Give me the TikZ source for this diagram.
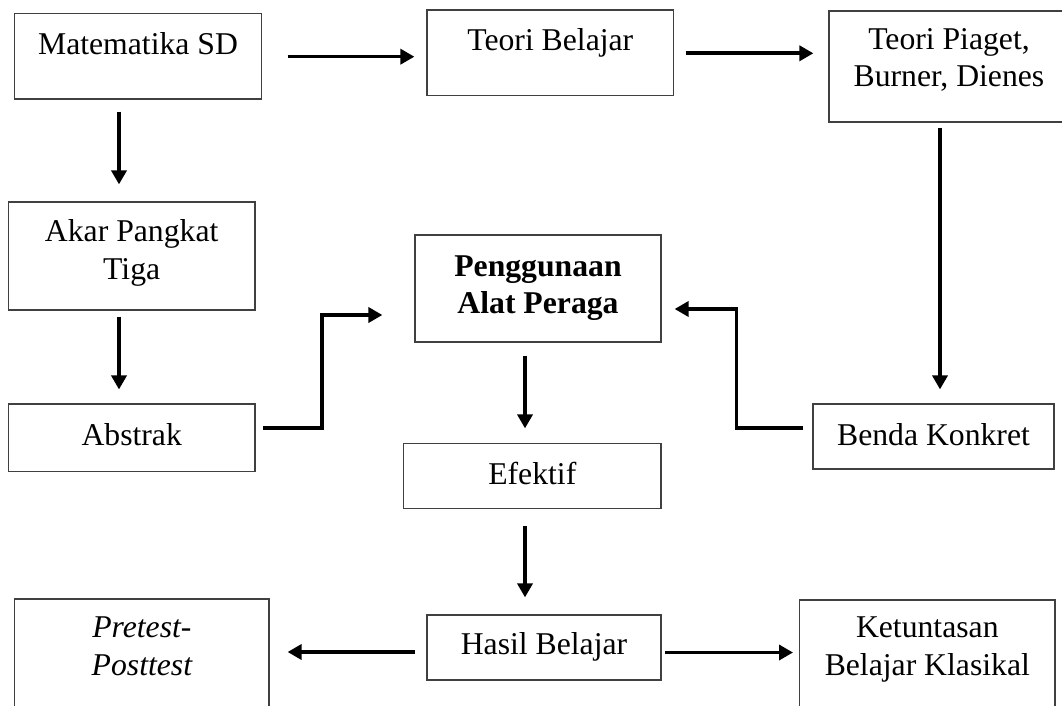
\documentclass[tikz,border=0pt]{standalone}
\usepackage{fontspec}
\setmainfont{Liberation Serif}
\usetikzlibrary{arrows.meta,calc}
\tikzset{
  box/.style={draw=black!75, line width=1.2pt, inner sep=0pt, rectangle},
  lbl/.style={anchor=base, inner sep=0pt, font=\fontsize{31.7}{38}\selectfont},
  arr/.style={line width=3.6pt, -{Triangle[width=15pt,length=14pt]}},
  conn/.style={line width=3.6pt}
}
\begin{document}
\begin{tikzpicture}[x=1pt,y=-1pt]
\useasboundingbox (0,0) rectangle (1062,706);
\clip (0,0) rectangle (1062,706);
% boxes
\node[box, minimum width=246.6pt, minimum height=85.7pt] (mat) at (138,56.2) {};
\node[box, minimum width=246.6pt, minimum height=85.7pt] (tb) at (550.3,52.9) {};
\node[box, minimum width=241pt, minimum height=111pt] (tp) at (949.5,66.5) {};
\node[box, minimum width=246.7pt, minimum height=108pt] (akar) at (131.7,256) {};
\node[box, minimum width=246pt, minimum height=107pt] (peng) at (538,288.5) {};
\node[box, minimum width=246.7pt, minimum height=67.7pt] (abs) at (131.7,437.9) {};
\node[box, minimum width=241pt, minimum height=65pt] (bk) at (933.5,436.5) {};
\node[box, minimum width=257.4pt, minimum height=65pt] (ef) at (532.3,476.2) {};
\node[box, minimum width=234pt, minimum height=65pt] (hasil) at (544,647.5) {};
\node[box, minimum width=254.2pt, minimum height=121pt] (pre) at (141.9,659.5) {};
\node[box, minimum width=255.4pt, minimum height=120pt] (ket) at (927.3,660) {};
% texts
\node[lbl] (matT) at (138,54.3) {Matematika SD};
\node[lbl] (tbT) at (550.3,51) {Teori Belajar};
\node[lbl] (tpT1) at (949,50) {Teori Piaget,};
\node[lbl] (tpT2) at (949,87) {Burner, Dienes};
\node[lbl] (akarT1) at (131.7,241.7) {Akar Pangkat};
\node[lbl] (akarT2) at (131.7,279.3) {Tiga};
\node[lbl,font=\fontsize{31.7}{38}\selectfont\bfseries] (pengT1) at (538,276) {Penggunaan};
\node[lbl,font=\fontsize{31.7}{38}\selectfont\bfseries] (pengT2) at (538,313) {Alat Peraga};
\node[lbl] (absT) at (131.7,445) {Abstrak};
\node[lbl] (bkT) at (933.5,445) {Benda Konkret};
\node[lbl] (efT) at (532.3,484) {Efektif};
\node[lbl] (hasilT) at (544,654) {Hasil Belajar};
\node[lbl,font=\fontsize{31.7}{38}\selectfont\itshape] (preT1) at (141.9,637) {Pretest-};
\node[lbl,font=\fontsize{31.7}{38}\selectfont\itshape] (preT2) at (141.9,675) {Posttest};
\node[lbl] (ketT1) at (927.3,637) {Ketuntasan};
\node[lbl] (ketT2) at (927.3,675) {Belajar Klasikal};
% connectors
\draw[arr] ($(mat.east)+(25.6,0.5)$) coordinate (c1) -- ($(c1 -| tb.west)+(-12,0)$);
\draw[arr] ($(tb.east)+(11.4,0.4)$) coordinate (c2) -- ($(c2 -| tp.west)+(-15,0)$);
\draw[arr] ($(mat.south)+(-19,12)$) coordinate (m1) -- ($(m1 |- akar.north)+(0,-17)$);
\draw[arr] ($(akar.south)+(-12.7,6)$) coordinate (a1) -- ($(a1 |- abs.north)+(0,-14)$);
\draw[arr] ($(abs.east)+(7,-10.2)$) -| ($(peng.west)+(-92.4,26.5)$) -- ($(peng.west)+(-32,26.5)$);
\draw[arr] ($(peng.south)+(-13,13)$) coordinate (p1) -- ($(p1 |- ef.north)+(0,-14.7)$);
\draw[arr] ($(ef.south)+(-7.3,16.3)$) coordinate (e1) -- ($(e1 |- hasil.north)+(0,-17)$);
\draw[arr] ($(tp.south)+(-9.5,5)$) coordinate (t1) -- ($(t1 |- bk.north)+(0,-14)$);
\draw[arr] ($(bk.west)+(-9,-8.8)$) -| ($(peng.east)+(75,20.5)$) -- ($(peng.east)+(13,20.5)$);
\draw[arr] ($(hasil.west)+(-11.4,4.5)$) coordinate (h1) -- ($(h1 -| pre.east)+(18,0)$);
\draw[arr] ($(hasil.east)+(3.6,5)$) coordinate (h2) -- ($(h2 -| ket.west)+(-6,0)$);
\end{tikzpicture}
\end{document}
